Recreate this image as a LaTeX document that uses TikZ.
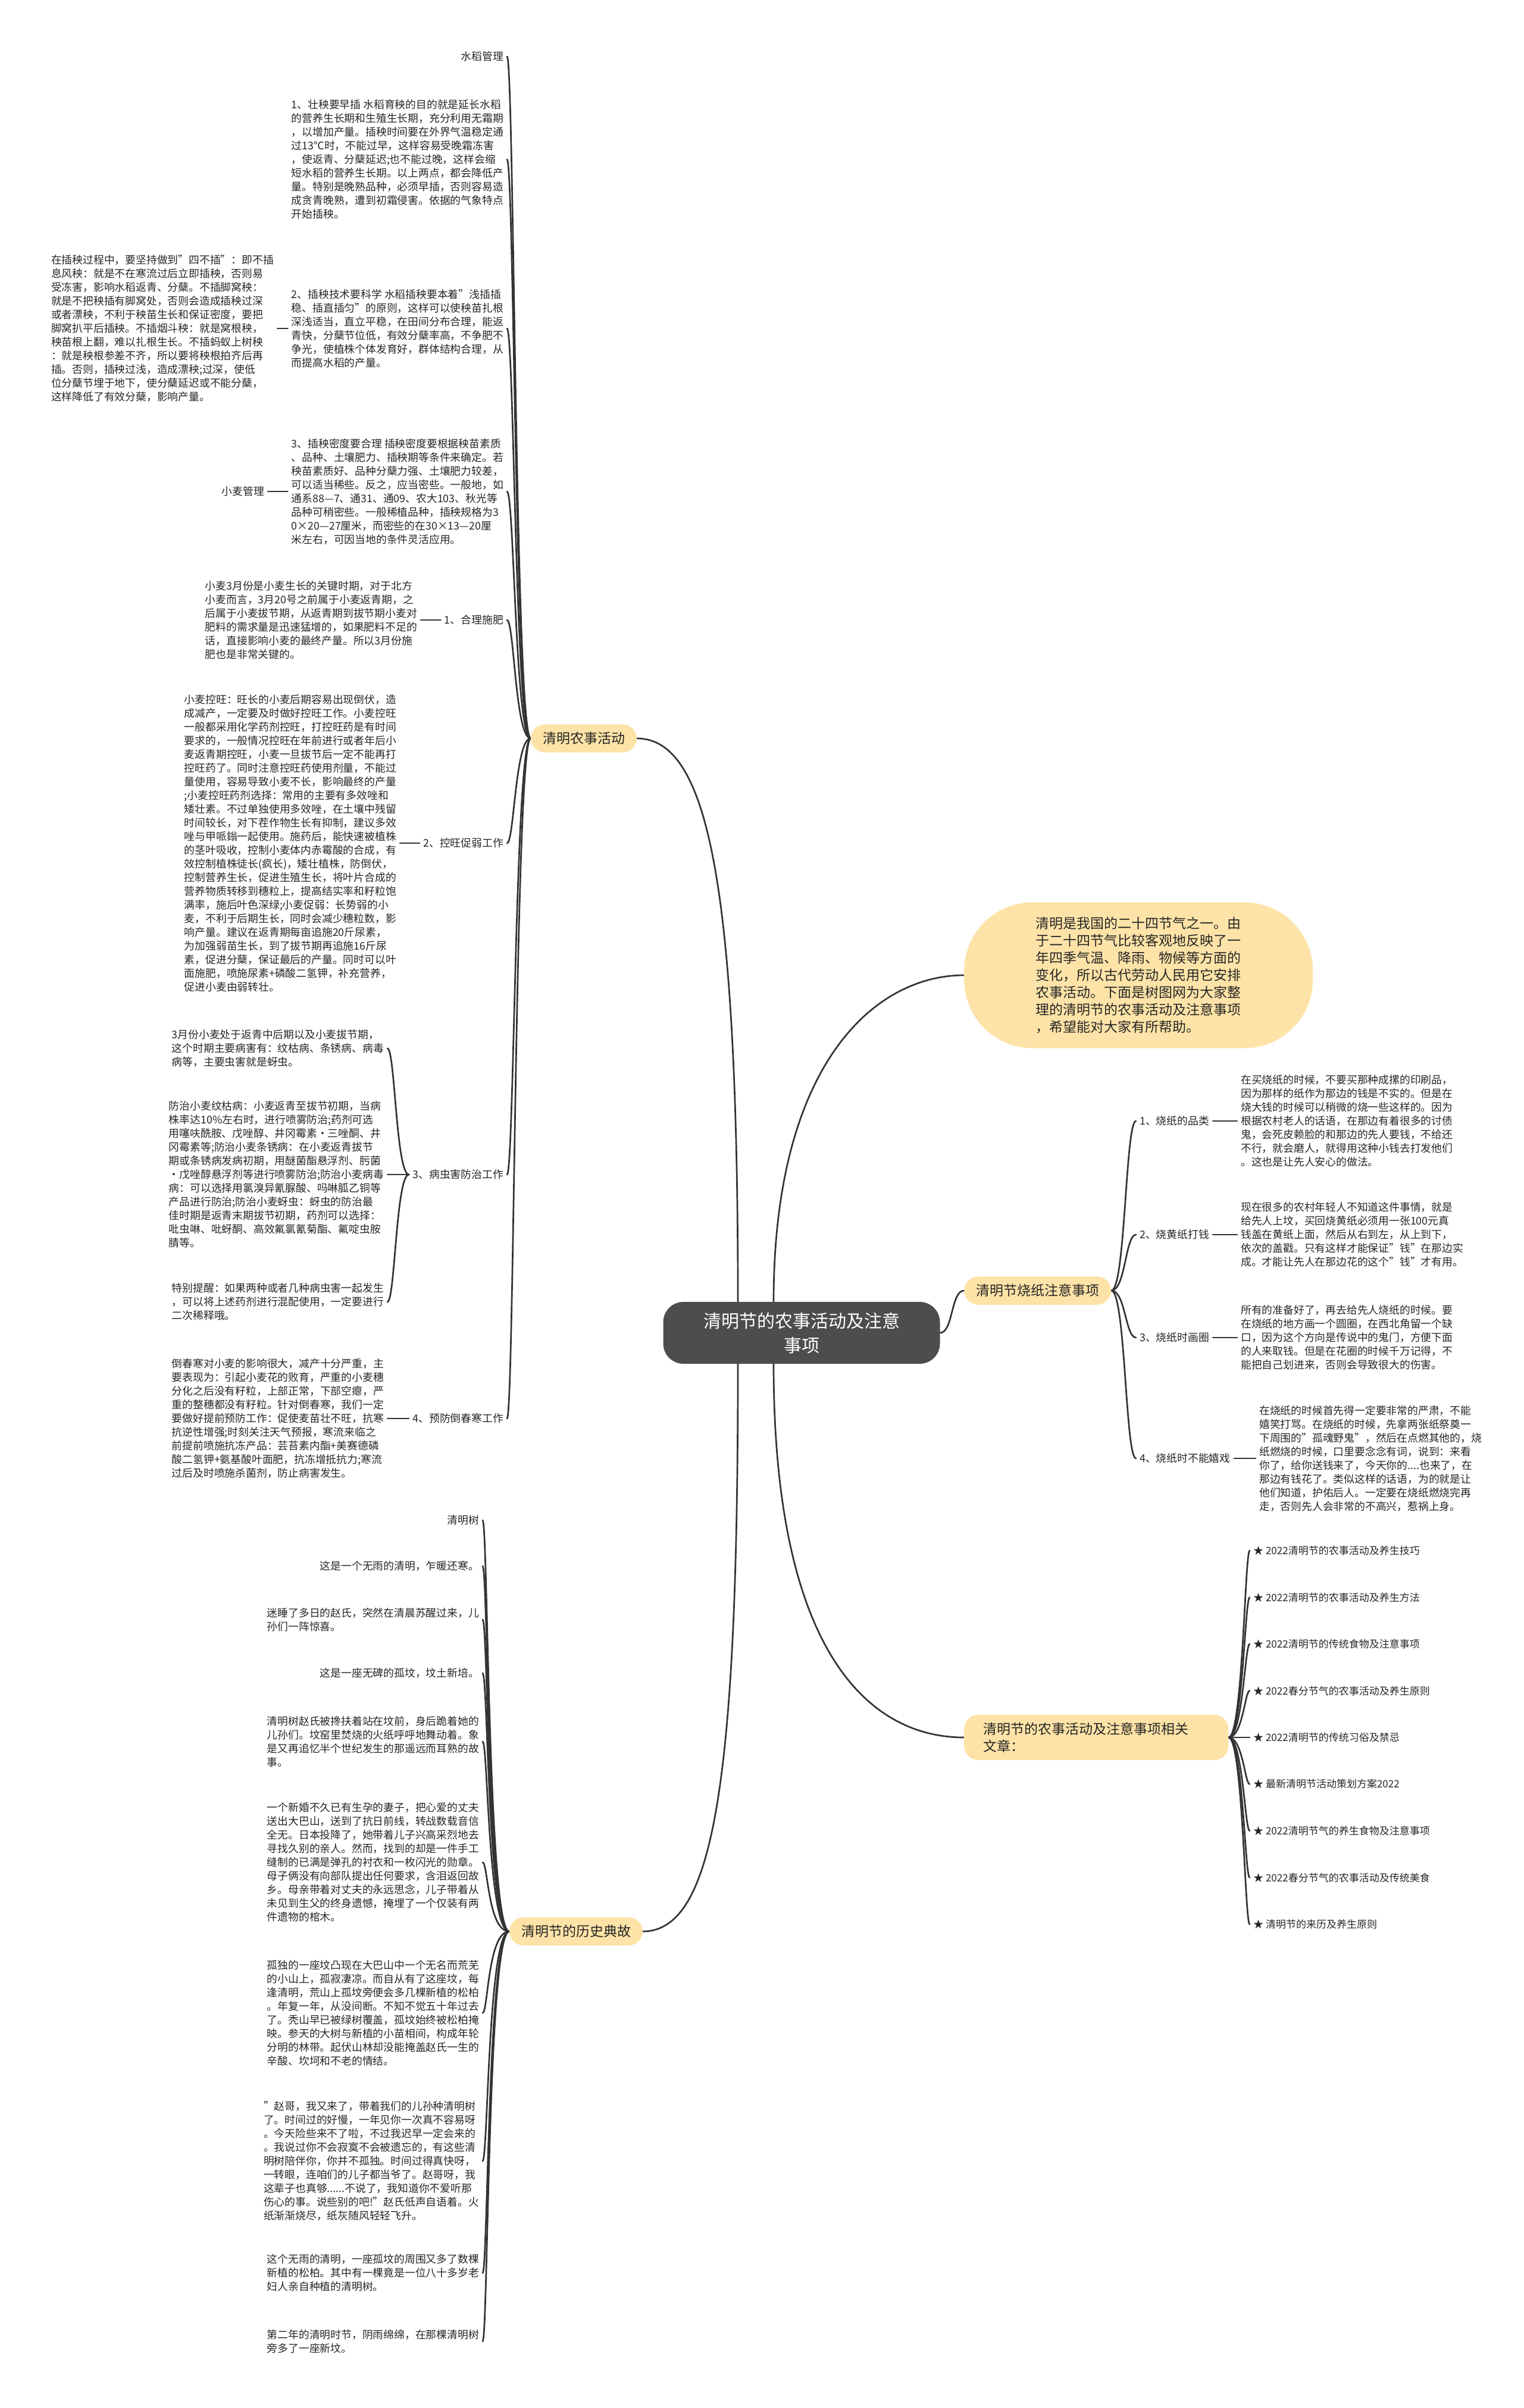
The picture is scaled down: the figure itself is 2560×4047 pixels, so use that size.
\documentclass[tikz,border=0pt]{standalone}
\usepackage{fontspec}
\setmainfont{Noto Sans CJK SC}
\usetikzlibrary{positioning, backgrounds}
\definecolor{grigioradice}{HTML}{4D4D4D}
\definecolor{gialloramo}{HTML}{FDE3A7}
\definecolor{testo}{HTML}{262626}
\definecolor{linea}{HTML}{333333}
\tikzset{
    radice/.style={fill=grigioradice, rounded corners=34pt, text=white, align=center, minimum width=465pt, minimum height=104pt, font=\fontsize{30}{41}\selectfont},
    ramo/.style={fill=gialloramo, rounded corners=24pt, text=testo, align=left, inner xsep=20pt, inner ysep=13pt, font=\fontsize{23}{29}\selectfont},
    foglia/.style={text=testo, align=left, inner xsep=6pt, inner ysep=2pt, font=\fontsize{17.8}{23}\selectfont},
    voce/.style={text=testo, align=left, inner xsep=6pt, inner ysep=2pt, font=\fontsize{17}{22}\selectfont},
    filo/.style={draw=linea, line width=2.7pt, line cap=round}
}

\begin{document}
\begin{tikzpicture}[x=1pt, y=-1pt]
        \useasboundingbox (0,0) rectangle (2560,4047);

        % -----------------------------------------------------------------
        % NODO CENTRALE
        % -----------------------------------------------------------------
        \node[radice] (radice) at (1347,2240) {清明节的农事活动及注意\\事项};

        % -----------------------------------------------------------------
        % RAMO: ATTIVITA' AGRICOLE
        % -----------------------------------------------------------------
        \node[ramo] (nongshi) at (981,1241) {清明农事活动};

        \node[foglia, anchor=east] (sdGl) at (852,95) {水稻管理};
        \node[foglia, anchor=east] (sd1) at (852,268) {1、壮秧要早插 水稻育秧的目的就是延长水稻\\的营养生长期和生殖生长期，充分利用无霜期\\，以增加产量。插秧时间要在外界气温稳定通\\过13℃时，不能过早，这样容易受晚霜冻害\\，使返青、分蘖延迟;也不能过晚，这样会缩\\短水稻的营养生长期。以上两点，都会降低产\\量。特别是晚熟品种，必须早插，否则容易造\\成贪青晚熟，遭到初霜侵害。依据的气象特点\\开始插秧。};
        \node[foglia, anchor=east] (sd2) at (852,552) {2、插秧技术要科学 水稻插秧要本着"浅插插\\稳、插直插匀"的原则，这样可以使秧苗扎根\\深浅适当，直立平稳，在田间分布合理，能返\\青快，分蘖节位低，有效分蘖率高，不争肥不\\争光，使植株个体发育好，群体结构合理，从\\而提高水稻的产量。};
        \node[foglia, anchor=east] (sd2a) at (466,552) {在插秧过程中，要坚持做到"四不插"：即不插\\息风秧：就是不在寒流过后立即插秧，否则易\\受冻害，影响水稻返青、分蘖。不插脚窝秧：\\就是不把秧插有脚窝处，否则会造成插秧过深\\或者漂秧，不利于秧苗生长和保证密度，要把\\脚窝扒平后插秧。不插烟斗秧：就是窝根秧，\\秧苗根上翻，难以扎根生长。不插蚂蚁上树秧\\：就是秧根参差不齐，所以要将秧根拍齐后再\\插。否则，插秧过浅，造成漂秧;过深，使低\\位分蘖节埋于地下，使分蘖延迟或不能分蘖，\\这样降低了有效分蘖，影响产量。};
        \node[foglia, anchor=east] (sd3) at (852,826) {3、插秧密度要合理 插秧密度要根据秧苗素质\\、品种、土壤肥力、插秧期等条件来确定。若\\秧苗素质好、品种分蘖力强、土壤肥力较差，\\可以适当稀些。反之，应当密些。一般地，如\\通系88—7、通31、通09、农大103、秋光等\\品种可稍密些。一般稀植品种，插秧规格为3\\0×20—27厘米，而密些的在30×13—20厘\\米左右，可因当地的条件灵活应用。};
        \node[foglia, anchor=east] (xmGl) at (450,826) {小麦管理};

        \node[foglia, anchor=east] (xm1) at (852,1042) {1、合理施肥};
        \node[foglia, anchor=east] (xm1a) at (707,1042) {小麦3月份是小麦生长的关键时期，对于北方\\小麦而言，3月20号之前属于小麦返青期，之\\后属于小麦拔节期，从返青期到拔节期小麦对\\肥料的需求量是迅速猛增的，如果肥料不足的\\话，直接影响小麦的最终产量。所以3月份施\\肥也是非常关键的。};
        \node[foglia, anchor=east] (xm2) at (852,1417) {2、控旺促弱工作};
        \node[foglia, anchor=east] (xm2a) at (672,1417) {小麦控旺：旺长的小麦后期容易出现倒伏，造\\成减产，一定要及时做好控旺工作。小麦控旺\\一般都采用化学药剂控旺，打控旺药是有时间\\要求的，一般情况控旺在年前进行或者年后小\\麦返青期控旺，小麦一旦拔节后一定不能再打\\控旺药了。同时注意控旺药使用剂量，不能过\\量使用，容易导致小麦不长，影响最终的产量\\;小麦控旺药剂选择：常用的主要有多效唑和\\矮壮素。不过单独使用多效唑，在土壤中残留\\时间较长，对下茬作物生长有抑制，建议多效\\唑与甲哌鎓一起使用。施药后，能快速被植株\\的茎叶吸收，控制小麦体内赤霉酸的合成，有\\效控制植株徒长(疯长)，矮壮植株，防倒伏，\\控制营养生长，促进生殖生长，将叶片合成的\\营养物质转移到穗粒上，提高结实率和籽粒饱\\满率，施后叶色深绿;小麦促弱：长势弱的小\\麦，不利于后期生长，同时会减少穗粒数，影\\响产量。建议在返青期每亩追施20斤尿素，\\为加强弱苗生长，到了拔节期再追施16斤尿\\素，促进分蘖，保证最后的产量。同时可以叶\\面施肥，喷施尿素+磷酸二氢钾，补充营养，\\促进小麦由弱转壮。};
        \node[foglia, anchor=east] (xm3) at (852,1974) {3、病虫害防治工作};
        \node[foglia, anchor=east] (xm3a) at (651,1762) {3月份小麦处于返青中后期以及小麦拔节期，\\这个时期主要病害有：纹枯病、条锈病、病毒\\病等，主要虫害就是蚜虫。};
        \node[foglia, anchor=east] (xm3b) at (651,1974) {防治小麦纹枯病：小麦返青至拔节初期，当病\\株率达10\%左右时，进行喷雾防治;药剂可选\\用噻呋酰胺、戊唑醇、井冈霉素·三唑酮、井\\冈霉素等;防治小麦条锈病：在小麦返青拔节\\期或条锈病发病初期，用醚菌酯悬浮剂、肟菌\\·戊唑醇悬浮剂等进行喷雾防治;防治小麦病毒\\病：可以选择用氯溴异氰脲酸、吗啉胍乙铜等\\产品进行防治;防治小麦蚜虫：蚜虫的防治最\\佳时期是返青末期拔节初期，药剂可以选择：\\吡虫啉、吡蚜酮、高效氟氯氰菊酯、氟啶虫胺\\腈等。};
        \node[foglia, anchor=east] (xm3c) at (651,2188) {特别提醒：如果两种或者几种病虫害一起发生\\，可以将上述药剂进行混配使用，一定要进行\\二次稀释哦。};
        \node[foglia, anchor=east] (xm4) at (852,2384) {4、预防倒春寒工作};
        \node[foglia, anchor=east] (xm4a) at (651,2384) {倒春寒对小麦的影响很大，减产十分严重，主\\要表现为：引起小麦花的败育，严重的小麦穗\\分化之后没有籽粒，上部正常，下部空瘪，严\\重的整穗都没有籽粒。针对倒春寒，我们一定\\要做好提前预防工作：促使麦苗壮不旺，抗寒\\抗逆性增强;时刻关注天气预报，寒流来临之\\前提前喷施抗冻产品：芸苔素内酯+美赛德磷\\酸二氢钾+氨基酸叶面肥，抗冻增抵抗力;寒流\\过后及时喷施杀菌剂，防止病害发生。};

        % -----------------------------------------------------------------
        % RAMO: STORIA
        % -----------------------------------------------------------------
        \node[ramo] (lishi) at (968,3246) {清明节的历史典故};

        \node[foglia, anchor=east] (ls1) at (811,2555) {清明树};
        \node[foglia, anchor=east] (ls2) at (811,2632) {这是一个无雨的清明，乍暖还寒。};
        \node[foglia, anchor=east] (ls3) at (811,2722) {迷睡了多日的赵氏，突然在清晨苏醒过来，儿\\孙们一阵惊喜。};
        \node[foglia, anchor=east] (ls4) at (811,2812) {这是一座无碑的孤坟，坟土新培。};
        \node[foglia, anchor=east] (ls5) at (811,2927) {清明树赵氏被搀扶着站在坟前，身后跪着她的\\儿孙们。坟窑里焚烧的火纸呼呼地舞动着。象\\是又再追忆半个世纪发生的那遥远而耳熟的故\\事。};
        \node[foglia, anchor=east] (ls6) at (811,3130) {一个新婚不久已有生孕的妻子，把心爱的丈夫\\送出大巴山，送到了抗日前线，转战数载音信\\全无。日本投降了，她带着儿子兴高采烈地去\\寻找久别的亲人。然而，找到的却是一件手工\\缝制的已满是弹孔的衬衣和一枚闪光的勋章。\\母子俩没有向部队提出任何要求，含泪返回故\\乡。母亲带着对丈夫的永远思念，儿子带着从\\未见到生父的终身遗憾，掩埋了一个仅装有两\\件遗物的棺木。};
        \node[foglia, anchor=east] (ls7) at (811,3383) {孤独的一座坟凸现在大巴山中一个无名而荒芜\\的小山上，孤寂凄凉。而自从有了这座坟，每\\逢清明，荒山上孤坟旁便会多几棵新植的松柏\\。年复一年，从没间断。不知不觉五十年过去\\了。秃山早已被绿树覆盖，孤坟始终被松柏掩\\映。参天的大树与新植的小苗相间，构成年轮\\分明的林带。起伏山林却没能掩盖赵氏一生的\\辛酸、坎坷和不老的情结。};
        \node[foglia, anchor=east] (ls8) at (811,3632) {"赵哥，我又来了，带着我们的儿孙种清明树\\了。时间过的好慢，一年见你一次真不容易呀\\。今天险些来不了啦，不过我迟早一定会来的\\。我说过你不会寂寞不会被遗忘的，有这些清\\明树陪伴你，你并不孤独。时间过得真快呀，\\一转眼，连咱们的儿子都当爷了。赵哥呀，我\\这辈子也真够......不说了，我知道你不爱听那\\伤心的事。说些别的吧!"赵氏低声自语着。火\\纸渐渐烧尽，纸灰随风轻轻飞升。};
        \node[foglia, anchor=east] (ls9) at (811,3820) {这个无雨的清明，一座孤坟的周围又多了数棵\\新植的松柏。其中有一棵竟是一位八十多岁老\\妇人亲自种植的清明树。};
        \node[foglia, anchor=east] (ls10) at (811,3935) {第二年的清明时节，阴雨绵绵，在那棵清明树\\旁多了一座新坟。};

        % -----------------------------------------------------------------
        % RAMI A DESTRA
        % -----------------------------------------------------------------
        \node[ramo, anchor=west, rounded corners=115pt, minimum width=586pt, minimum height=245pt] (intro) at (1620,1639) {清明是我国的二十四节气之一。由\\于二十四节气比较客观地反映了一\\年四季气温、降雨、物候等方面的\\变化，所以古代劳动人民用它安排\\农事活动。下面是树图网为大家整\\理的清明节的农事活动及注意事项\\，希望能对大家有所帮助。};

        \node[ramo, anchor=west] (shaozhi) at (1620,2169) {清明节烧纸注意事项};
        \node[foglia, anchor=west] (sz1) at (1909,1884) {1、烧纸的品类};
        \node[foglia, anchor=west] (sz1a) at (2079,1884) {在买烧纸的时候，不要买那种成摞的印刷品，\\因为那样的纸作为那边的钱是不实的。但是在\\烧大钱的时候可以稍微的烧一些这样的。因为\\根据农村老人的话语，在那边有着很多的讨债\\鬼，会死皮赖脸的和那边的先人要钱，不给还\\不行，就会磨人，就得用这种小钱去打发他们\\。这也是让先人安心的做法。};
        \node[foglia, anchor=west] (sz2) at (1909,2075) {2、烧黄纸打钱};
        \node[foglia, anchor=west] (sz2a) at (2079,2075) {现在很多的农村年轻人不知道这件事情，就是\\给先人上坟，买回烧黄纸必须用一张100元真\\钱盖在黄纸上面，然后从右到左，从上到下，\\依次的盖戳。只有这样才能保证"钱"在那边实\\成。才能让先人在那边花的这个"钱"才有用。};
        \node[foglia, anchor=west] (sz3) at (1909,2248) {3、烧纸时画圈};
        \node[foglia, anchor=west] (sz3a) at (2079,2248) {所有的准备好了，再去给先人烧纸的时候。要\\在烧纸的地方画一个圆圈，在西北角留一个缺\\口，因为这个方向是传说中的鬼门，方便下面\\的人来取钱。但是在花圈的时候千万记得，不\\能把自己划进来，否则会导致很大的伤害。};
        \node[foglia, anchor=west] (sz4) at (1909,2451) {4、烧纸时不能嬉戏};
        \node[foglia, anchor=west] (sz4a) at (2110,2451) {在烧纸的时候首先得一定要非常的严肃，不能\\嬉笑打骂。在烧纸的时候，先拿两张纸祭奠一\\下周围的"孤魂野鬼"，然后在点燃其他的，烧\\纸燃烧的时候，口里要念念有词，说到：来看\\你了，给你送钱来了，今天你的....也来了，在\\那边有钱花了。类似这样的话语，为的就是让\\他们知道，护佑后人。一定要在烧纸燃烧完再\\走，否则先人会非常的不高兴，惹祸上身。};

        \node[ramo, anchor=west, text width=380pt, inner xsep=32pt] (xiangguan) at (1620,2920) {清明节的农事活动及注意事项相关\\文章：};
        \foreach \t [count=\i] in {2022清明节的农事活动及养生技巧, 2022清明节的农事活动及养生方法, 2022清明节的传统食物及注意事项, 2022春分节气的农事活动及养生原则, 2022清明节的传统习俗及禁忌, 最新清明节活动策划方案2022, 2022清明节气的养生食物及注意事项, 2022春分节气的农事活动及传统美食, 清明节的来历及养生原则}
            \node[voce, anchor=west] (wz\i) at (2100,{2920+78.5*(\i-5)}) {★ \t};

        % -----------------------------------------------------------------
        % COLLEGAMENTI
        % -----------------------------------------------------------------
        \begin{scope}[on background layer]
            \fill[white] (0,0) rectangle (2560,4047);

            \draw[filo] ([xshift=-107pt]radice.north) .. controls +(0,-700) and +(120,0) .. (nongshi.east);
            \draw[filo] ([xshift=-107pt]radice.south) .. controls +(0,700) and +(120,0) .. (lishi.east);
            \draw[filo] ([xshift=-47pt]radice.north) .. controls +(0,-400) and +(-150,0) .. (intro.west);
            \draw[filo] (radice.east) .. controls +(22,0) and +(-22,0) .. (shaozhi.west);
            \draw[filo] ([xshift=-47pt]radice.south) .. controls +(0,500) and +(-150,0) .. (xiangguan.west);

            \foreach \c in {sdGl, sd1, sd2, sd3, xm1, xm2, xm3, xm4}
                \draw[filo] (nongshi.west) .. controls +(-26,0) and +(12,0) .. (\c.east);
            \draw[filo] (sd2.west) -- (sd2a.east);
            \draw[filo] (sd3.west) -- (xmGl.east);
            \draw[filo] (xm1.west) -- (xm1a.east);
            \draw[filo] (xm2.west) -- (xm2a.east);
            \foreach \c in {xm3a, xm3b, xm3c}
                \draw[filo] (xm3.west) .. controls +(-22,0) and +(13,0) .. (\c.east);
            \draw[filo] (xm4.west) -- (xm4a.east);

            \foreach \c in {ls1, ls2, ls3, ls4, ls5, ls6, ls7, ls8, ls9, ls10}
                \draw[filo] (lishi.west) .. controls +(-36,0) and +(9,0) .. (\c.east);

            \foreach \c in {sz1, sz2, sz3, sz4}
                \draw[filo] (shaozhi.east) .. controls +(24,0) and +(-18,0) .. (\c.west);
            \foreach \c in {1, 2, 3, 4}
                \draw[filo] (sz\c.east) -- (sz\c a.west);

            \foreach \i in {1,...,9}
                \draw[filo] (xiangguan.east) .. controls +(24,0) and +(-8,0) .. (wz\i.west);
        \end{scope}

    \end{tikzpicture}
\end{document}
